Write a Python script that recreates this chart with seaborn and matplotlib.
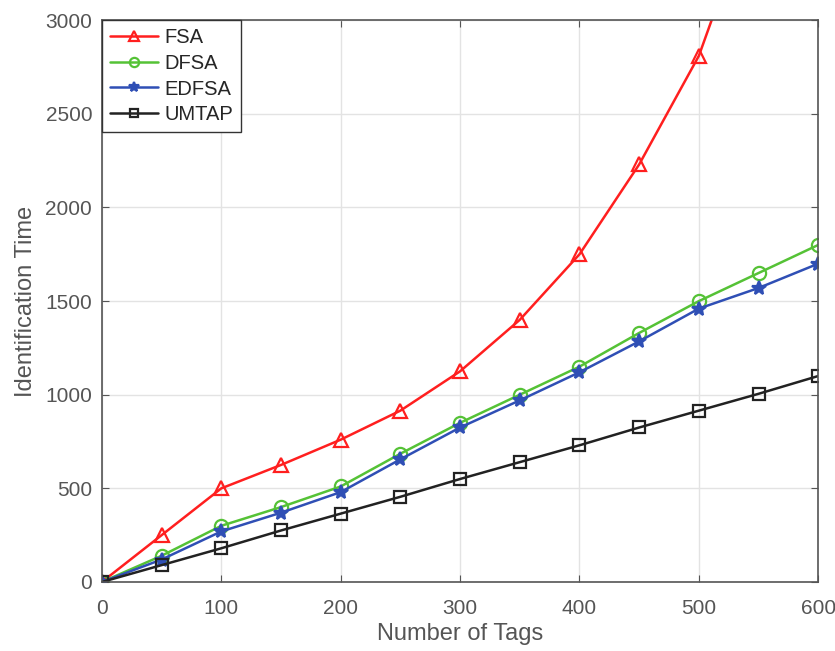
import numpy as np
import pandas as pd
import matplotlib
matplotlib.use("Agg")
import matplotlib.pyplot as plt
import seaborn as sns

tags = [0, 50, 100, 150, 200, 250, 300, 350, 400, 450, 500, 550, 600]
fsa = [0, 250, 500, 625, 760, 915, 1125, 1400, 1750, 2230, 2810, 3700, 4600]
dfsa = [0, 140, 300, 400, 510, 685, 850, 1000, 1150, 1330, 1500, 1650, 1800]
edfsa = [0, 120, 270, 370, 480, 655, 825, 970, 1120, 1285, 1460, 1570, 1700]
umtap = [0, 90, 180, 275, 365, 455, 550, 640, 730, 825, 915, 1005, 1100]

sns.set_style("whitegrid")
plt.rcParams['font.family'] = ['Liberation Sans', 'DejaVu Sans']

fig = plt.figure(figsize=(8.35, 6.51), dpi=100)
ax = fig.add_axes([0.122, 0.106, 0.858, 0.863])

series = [
    ("FSA", fsa, "#ff1f1f", "^", "none", 10),
    ("DFSA", dfsa, "#55c236", "o", "none", 9.5),
    ("EDFSA", edfsa, "#2f4fb5", "*", "#2f4fb5", 10),
    ("UMTAP", umtap, "#222222", "s", "none", 8),
]
for name, vals, col, mk, mfc, ms in series:
    sns.lineplot(x=tags, y=vals, ax=ax, color=col, marker=mk, markersize=ms,
                 markerfacecolor=mfc, markeredgecolor=col, markeredgewidth=1.6,
                 linewidth=1.8, label=name)

ax.set_xlim(0, 600)
ax.set_ylim(0, 3000)
ax.set_xticks(range(0, 601, 100))
ax.set_yticks(range(0, 3001, 500))
ax.grid(True, color="#e3e3e3", linewidth=1)
for s in ax.spines.values():
    s.set_visible(True)
    s.set_color("#555555")
    s.set_linewidth(1.2)
ax.tick_params(direction="in", length=5, pad=7, colors="#555555", labelcolor="#555555",
               labelsize=15, left=True, bottom=True, right=True, top=True)
ax.tick_params(axis="x", pad=12)
ax.set_xlabel("Number of Tags", fontsize=17, color="#555555", labelpad=4)
ax.set_ylabel("Identification Time", fontsize=17, color="#555555", labelpad=6)

leg = ax.legend(loc="upper left", fontsize=14.5, frameon=True, fancybox=False,
                edgecolor="#333333", framealpha=1, borderaxespad=0,
                handlelength=2.4, handletextpad=0.3, labelspacing=0.33,
                borderpad=0.4, markerscale=0.7)
leg.get_frame().set_linewidth(1.0)

fig.savefig("out.png", dpi=100)
